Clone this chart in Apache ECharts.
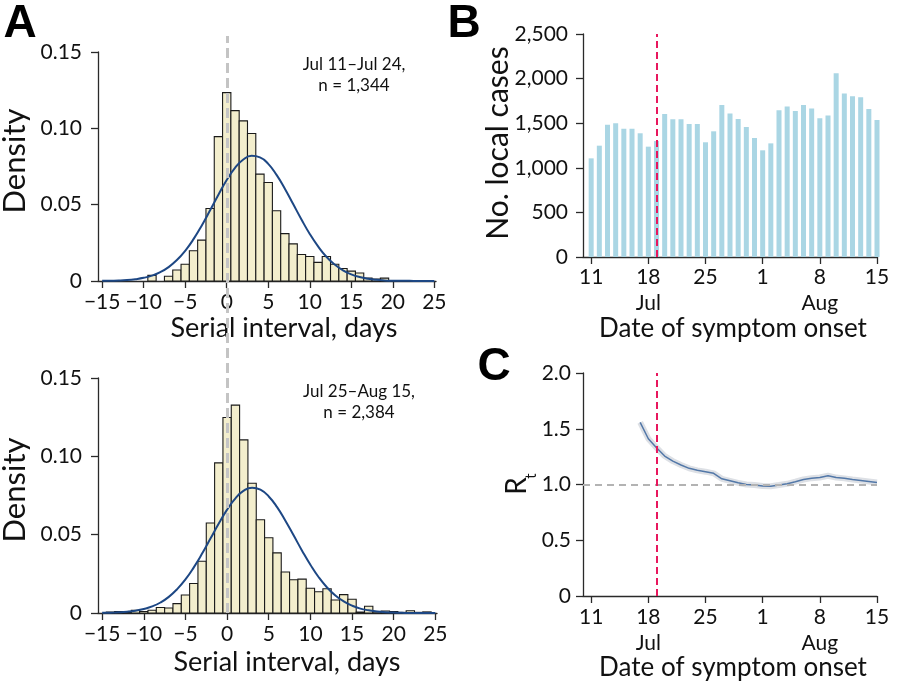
<!DOCTYPE html>
<html>
<head>
<meta charset="utf-8">
<script src="https://cdn.jsdelivr.net/npm/echarts@6/dist/echarts.min.js"></script>
<style>
html,body{margin:0;padding:0;background:#fff;}
#chart{width:900px;height:688px;}
</style>
</head>
<body>
<div id="chart"></div>
<script>
// ---------- Data ----------
// Serial interval histogram bins (days), centered on integers
const siDays = [-15,-14,-13,-12,-11,-10,-9,-8,-7,-6,-5,-4,-3,-2,-1,0,1,2,3,4,5,6,7,8,9,10,11,12,13,14,15,16,17,18,19,20,21,22,23,24,25];
const densityEarly = [0,0,0,0,0,0,0.0037,0,0.0031,0.0072,0.0110,0.0198,0.0268,0.0475,0.0946,0.1234,0.1116,0.1049,0.0966,0.0700,0.0645,0.0460,0.0310,0.0243,0.0174,0.0160,0.0122,0.0160,0.0110,0.0082,0.0065,0.0052,0.0019,0.0013,0.0019,0,0,0,0,0,0];
const densityLate  = [0,0.0006,0.0010,0.0005,0.0017,0.0010,0.0018,0.0035,0.0032,0.0060,0.0115,0.0188,0.0330,0.0574,0.0958,0.1248,0.1327,0.1105,0.0828,0.0595,0.0480,0.0384,0.0262,0.0212,0.0216,0.0158,0.0136,0.0155,0.0083,0.0117,0.0088,0.0006,0.0043,0.0008,0.0013,0.0010,0.0004,0.0014,0.0004,0.0007,0];
// Fitted density curves at each day
const curveEarly = [0.0001,0.0002,0.0003,0.0006,0.0012,0.0021,0.0035,0.0058,0.0091,0.0137,0.0198,0.0274,0.0364,0.0463,0.0565,0.0661,0.0741,0.0796,0.0820,0.0810,0.0767,0.0695,0.0605,0.0504,0.0403,0.0308,0.0227,0.0159,0.0108,0.0070,0.0043,0.0026,0.0015,0.0008,0.0004,0.0002,0.0001,0.0001,0,0,0];
const curveLate  = [0.0001,0.0002,0.0004,0.0008,0.0015,0.0026,0.0042,0.0067,0.0103,0.0152,0.0214,0.0291,0.0379,0.0475,0.0571,0.0660,0.0732,0.0781,0.0800,0.0787,0.0744,0.0676,0.0589,0.0494,0.0398,0.0308,0.0228,0.0163,0.0112,0.0074,0.0047,0.0028,0.0017,0.0009,0.0005,0.0003,0.0001,0,0,0,0];
const siTicks = [-15,-10,-5,0,5,10,15,20,25];
const siTickLabels = ['\u221215','\u221210','\u22125','0','5','10','15','20','25'];
const siZeroDay = 0; // dashed reference line at serial interval 0

// Daily local cases by date of symptom onset (Jul 11 – Aug 15)
const onsetDates = ['Jul 11','Jul 12','Jul 13','Jul 14','Jul 15','Jul 16','Jul 17','Jul 18','Jul 19','Jul 20','Jul 21','Jul 22','Jul 23','Jul 24','Jul 25','Jul 26','Jul 27','Jul 28','Jul 29','Jul 30','Jul 31','Aug 1','Aug 2','Aug 3','Aug 4','Aug 5','Aug 6','Aug 7','Aug 8','Aug 9','Aug 10','Aug 11','Aug 12','Aug 13','Aug 14','Aug 15'];
const localCases = [1106,1248,1484,1499,1439,1439,1387,1237,1300,1604,1544,1544,1492,1492,1286,1409,1705,1608,1548,1458,1334,1196,1274,1645,1687,1638,1705,1664,1555,1585,2061,1833,1803,1792,1660,1537];
// Effective reproduction number Rt (null before Jul 17)
const rt = [null,null,null,null,null,null,1.557,1.410,1.330,1.255,1.210,1.175,1.145,1.127,1.115,1.100,1.051,1.033,1.015,1.000,0.995,0.986,0.985,0.995,1.006,1.025,1.045,1.057,1.063,1.078,1.062,1.055,1.045,1.036,1.027,1.018];
const dateTicks = [0,7,14,21,28,35];
const dateTickLabels = ['11','18\nJul','25','1','8\nAug','15'];
const cutoffIndex = 8;   // Jul 19 reference line
const rtThreshold = 1;

// ---------- Styles ----------
const FONT = 'Lato';
const axisCol = '#2a2a2a';
const txt = '#111';

function xy(xs, ys){ return xs.map((x,i)=>[x, ys[i]]).filter(p=>p[1]!==null); }

function histSeries(xIdx, yIdx, vals){
  return {
    type:'custom', xAxisIndex:xIdx, yAxisIndex:yIdx, z:2,
    data: xy(siDays, vals).filter(p=>p[1]>0),
    renderItem: function(params, api){
      const x = api.value(0), y = api.value(1);
      const a = api.coord([x-0.5, y]);
      const b = api.coord([x+0.5, 0]);
      return {type:'rect', shape:{x:a[0], y:a[1], width:b[0]-a[0], height:b[1]-a[1]},
              style:{fill:'#f3eecd', stroke:'#1a1a1a', lineWidth:1.1}};
    }
  };
}

function siX(gi){
  return {type:'value', gridIndex:gi, position:'bottom', min:-15.5, max:25.2,
    axisLine:{show:true, onZero:false, lineStyle:{color:axisCol, width:1.3}},
    axisTick:{show:true, length:7, customValues:siTicks, lineStyle:{color:axisCol, width:1.3}},
    axisLabel:{customValues:siTicks, margin:11, fontFamily:FONT, fontSize:21, color:txt,
      formatter: v => siTickLabels[siTicks.indexOf(v)]},
    splitLine:{show:false}};
}
function yBase(gi, min, max, interval, margin, fmt){
  return {type:'value', gridIndex:gi, position:'left', min:min, max:max, interval:interval,
    axisLine:{show:true, onZero:false, lineStyle:{color:axisCol, width:1.3}},
    axisTick:{show:true, length:7, lineStyle:{color:axisCol, width:1.3}},
    axisLabel:{margin:margin, fontFamily:FONT, fontSize:21, color:txt, formatter:fmt},
    splitLine:{show:false}};
}
function dateX(gi, margin){
  return {type:'value', gridIndex:gi, position:'bottom', min:-1, max:35,
    axisLine:{show:true, onZero:false, lineStyle:{color:axisCol, width:1.3}},
    axisTick:{show:true, length:7, customValues:dateTicks, lineStyle:{color:axisCol, width:1.3}},
    axisLabel:{customValues:dateTicks, margin:margin, fontFamily:FONT, fontSize:21, lineHeight:26, color:txt,
      formatter: v => dateTickLabels[dateTicks.indexOf(v)]},
    splitLine:{show:false}};
}

const chart = echarts.init(document.getElementById('chart'), null, {renderer:'canvas'});
const dayIdx = onsetDates.map((d,i)=>i);

const option = {
  animation:false,
  backgroundColor:'#ffffff',
  textStyle:{fontFamily:FONT},
  grid:[
    {left:98, top:52, width:338, height:229},
    {left:98, top:378, width:339, height:235},
    {left:583, top:34, width:294, height:223},
    {left:583, top:373, width:294, height:223},
    // overlay grid spanning both histogram panels (for the zero reference line)
    {left:98, top:36, width:339, height:577}
  ],
  xAxis:[ siX(0), siX(1), dateX(2, 7), dateX(3, 8),
    {type:'value', gridIndex:4, min:-15.5, max:25.2, show:false} ],
  yAxis:[
    yBase(0, 0, 0.15, 0.05, 16, v => v===0 ? '0' : v.toFixed(2)),
    yBase(1, 0, 0.15, 0.05, 16, v => v===0 ? '0' : v.toFixed(2)),
    yBase(2, 0, 2500, 500, 15, v => v.toLocaleString('en-US')),
    yBase(3, 0, 2, 0.5, 12, v => v===0 ? '0' : v.toFixed(1)),
    {type:'value', gridIndex:4, min:0, max:1, show:false}
  ],
  series:[
    histSeries(0,0,densityEarly),
    histSeries(1,1,densityLate),
    {type:'line', xAxisIndex:4, yAxisIndex:4, data:[[siZeroDay, 0]], showSymbol:false, z:3, silent:true,
      lineStyle:{opacity:0},
      markLine:{silent:true, symbol:['none','none'], label:{show:false}, animation:false,
        lineStyle:{color:'#c4c4c4', type:[10,5], width:3},
        data:[{xAxis:siZeroDay}]}},
    {type:'line', xAxisIndex:0, yAxisIndex:0, data:xy(siDays, curveEarly), smooth:true, showSymbol:false, z:4,
      lineStyle:{color:'#1d4784', width:2}},
    {type:'line', xAxisIndex:1, yAxisIndex:1, data:xy(siDays, curveLate), smooth:true, showSymbol:false, z:4,
      lineStyle:{color:'#1d4784', width:2}},
    // B: local cases
    {type:'bar', xAxisIndex:2, yAxisIndex:2, data:localCases.map((v,i)=>[i,v]), barWidth:5, z:2,
      itemStyle:{color:'#aad6e4'},
      markLine:{silent:true, symbol:['none','none'], label:{show:false}, animation:false,
        lineStyle:{color:'#e8175d', type:[7,4], width:2}, data:[{xAxis:cutoffIndex}]}},
    // C: Rt uncertainty halo and line
    {type:'line', xAxisIndex:3, yAxisIndex:3, data:xy(dayIdx, rt), showSymbol:false, z:2,
      lineStyle:{color:'#dde0e5', width:6}},
    {type:'line', xAxisIndex:3, yAxisIndex:3, data:xy(dayIdx, rt), showSymbol:false, z:4,
      lineStyle:{color:'#5378a8', width:1.5},
      markLine:{silent:true, symbol:['none','none'], label:{show:false}, animation:false,
        data:[
          {yAxis:rtThreshold, lineStyle:{color:'#b3b3b3', type:[7,5], width:2}},
          {xAxis:cutoffIndex, lineStyle:{color:'#e8175d', type:[7,4], width:2}}
        ]}}
  ],
  graphic:[
    {type:'text', x:20, y:24, style:{text:'A', font:'bold 46px "Liberation Sans"', fill:'#000', align:'center', verticalAlign:'middle'}},
    {type:'text', x:464, y:24, style:{text:'B', font:'bold 46px "Liberation Sans"', fill:'#000', align:'center', verticalAlign:'middle'}},
    {type:'text', x:494, y:367, style:{text:'C', font:'bold 46px "Liberation Sans"', fill:'#000', align:'center', verticalAlign:'middle'}},
    {type:'text', x:15, y:161, rotation:Math.PI/2, style:{text:'Density', font:'31px Lato', fill:txt, align:'center', verticalAlign:'middle'}},
    {type:'text', x:15, y:490, rotation:Math.PI/2, style:{text:'Density', font:'31px Lato', fill:txt, align:'center', verticalAlign:'middle'}},
    {type:'text', x:498, y:143, rotation:Math.PI/2, style:{text:'No. local cases', font:'30px Lato', fill:txt, align:'center', verticalAlign:'middle'}},
    {type:'text', x:517, y:486, rotation:Math.PI/2, style:{text:'R', font:'28px Lato', fill:txt, align:'center', verticalAlign:'middle'}},
    {type:'text', x:531, y:476, rotation:Math.PI/2, style:{text:'t', font:'15px Lato', fill:txt, align:'center', verticalAlign:'middle'}},
    {type:'text', x:284, y:328, style:{text:'Serial interval, days', font:'27px Lato', fill:txt, align:'center', verticalAlign:'middle'}},
    {type:'text', x:287, y:662, style:{text:'Serial interval, days', font:'27px Lato', fill:txt, align:'center', verticalAlign:'middle'}},
    {type:'text', x:733, y:329, style:{text:'Date of symptom onset', font:'26px Lato', fill:txt, align:'center', verticalAlign:'middle'}},
    {type:'text', x:733, y:668, style:{text:'Date of symptom onset', font:'26px Lato', fill:txt, align:'center', verticalAlign:'middle'}},
    {type:'text', x:354, y:65, style:{text:'Jul 11\u2013Jul 24,', font:'17px Lato', fill:txt, align:'center', verticalAlign:'middle'}},
    {type:'text', x:354, y:86, style:{text:'n = 1,344', font:'17px Lato', fill:txt, align:'center', verticalAlign:'middle'}},
    {type:'text', x:359, y:392, style:{text:'Jul 25\u2013Aug 15,', font:'17px Lato', fill:txt, align:'center', verticalAlign:'middle'}},
    {type:'text', x:359, y:413, style:{text:'n = 2,384', font:'17px Lato', fill:txt, align:'center', verticalAlign:'middle'}}
  ]
};
chart.setOption(option);
</script>
</body>
</html>
